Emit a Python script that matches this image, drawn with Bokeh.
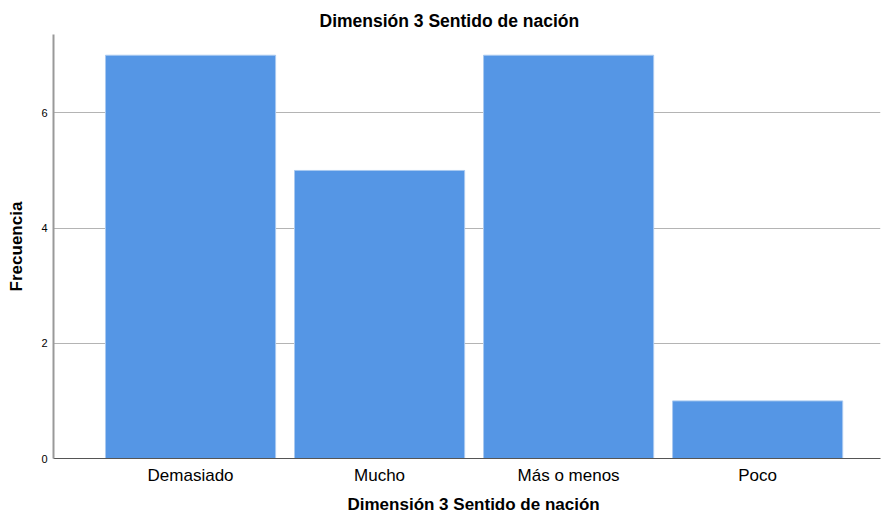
from bokeh.plotting import figure
from bokeh.models import Range1d, FixedTicker, ColumnDataSource, Title
from bokeh.embed import file_html
from bokeh.resources import INLINE

categories = ["Demasiado", "Mucho", "Más o menos", "Poco"]
counts = [7, 5, 7, 1]
y_ticks = [0, 2, 4, 6]

xs = list(range(len(categories)))
src = ColumnDataSource(dict(x=xs, top=counts))

p = figure(width=882, height=518, output_backend="svg", toolbar_location=None,
           x_range=Range1d(-0.725, 3.65), y_range=Range1d(0, 7.36),
           min_border_left=53, min_border_right=2, min_border_top=34, min_border_bottom=59)

p.vbar(x="x", top="top", width=0.9, source=src, fill_color="#5596E5",
       line_color="#A9C9F0", line_width=1)

p.title.text = "Dimensión 3 Sentido de nación"
p.title.align = "left"
p.title.offset = 266
p.title.standoff = 8
p.title.text_font = "Liberation Sans"
p.title.text_font_size = "17.5px"
p.title.text_font_style = "bold"
p.title.text_color = "#000000"

xlabel = Title(text="Dimensión 3 Sentido de nación", align="left", offset=294,
               text_font="Liberation Sans", text_font_size="17px",
               text_font_style="bold", text_color="#000000", standoff=10)
p.add_layout(xlabel, "below")

p.xaxis.ticker = FixedTicker(ticks=xs)
p.xaxis.major_label_overrides = {i: c for i, c in enumerate(categories)}
p.yaxis.axis_label = "Frecuencia"
p.yaxis.ticker = FixedTicker(ticks=y_ticks)

for ax in (p.xaxis[0], p.yaxis[0]):
    ax.axis_label_text_font = "Liberation Sans"
    ax.axis_label_text_font_size = "17px"
    ax.axis_label_text_font_style = "bold"
    ax.axis_label_text_color = "#000000"
    ax.major_tick_line_color = None
    ax.minor_tick_line_color = None
    ax.major_tick_out = 0
    ax.major_tick_in = 0
    ax.minor_tick_out = 0
    ax.minor_tick_in = 0
    ax.major_label_text_font = "Liberation Sans"
    ax.major_label_text_color = "#000000"

p.xaxis.major_label_text_font_size = "17px"
p.xaxis.major_label_standoff = 7
p.xaxis.axis_line_color = "#555555"
p.yaxis.major_label_text_font_size = "11px"
p.yaxis.major_label_standoff = 6
p.yaxis.axis_label_standoff = 12
p.yaxis.axis_line_color = "#999999"
p.yaxis.axis_line_width = 2

p.xgrid.grid_line_color = None
p.ygrid.grid_line_color = "#b4b4b4"
p.ygrid.ticker = FixedTicker(ticks=[2, 4, 6])
p.outline_line_color = None

open("out.html", "w").write(file_html(p, INLINE))
